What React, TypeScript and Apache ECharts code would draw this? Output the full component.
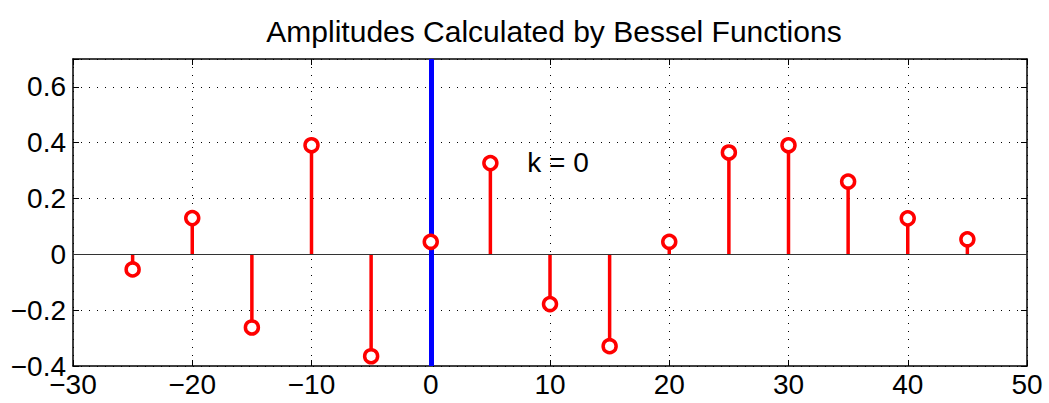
import React, { useEffect, useRef } from "react";
import * as echarts from "echarts";

// Harmonic index positions and their Bessel-function amplitudes
const positions = [-25, -20, -15, -10, -5, 0, 5, 10, 15, 20, 25, 30, 35, 40, 45];
const amplitudes = [-0.054, 0.13, -0.262, 0.391, -0.365, 0.045, 0.327, -0.178, -0.329, 0.045, 0.365, 0.391, 0.261, 0.129, 0.054];

const titleText = "Amplitudes Calculated by Bessel Functions";
const centerIndex = 0;
const annotation = { x: 8.1, y: 0.33, text: "k = 0" };

const xTicks = { min: -30, max: 50, step: 10 };
const yTicks = { min: -0.4, max: 0.7, step: 0.2 };

const FONT = "'Liberation Sans', Arial, Helvetica, sans-serif";
const fmt = (v: number) => {
  const r = Math.round(v * 10) / 10;
  const s = Math.abs(r).toString();
  return r < 0 ? "\u2212" + s : s;
};

export default function App() {
  const ref = useRef<HTMLDivElement>(null);

  useEffect(() => {
    if (!ref.current) return;
    const chart = echarts.init(ref.current, undefined, { renderer: "svg" });
    const points = positions.map((x, i) => [x, amplitudes[i]]);
    const gridLine = { show: true, lineStyle: { color: "#000", width: 1, type: [1, 7] as any } };
    const axisLine = { show: true, onZero: false, lineStyle: { color: "#000", width: 1.5 } };
    const tick = { show: true, inside: true, length: 6, lineStyle: { color: "#000", width: 1 } };

    chart.setOption({
      animation: false,
      backgroundColor: "#fff",
      title: {
        text: titleText,
        left: 549,
        textAlign: "center",
        top: 11,
        textStyle: { fontFamily: FONT, fontSize: 30, fontWeight: "normal", color: "#000" },
      },
      grid: { left: 73, right: 22, top: 59, bottom: 37 },
      xAxis: [
        {
          type: "value",
          min: xTicks.min,
          max: xTicks.max,
          interval: xTicks.step,
          position: "bottom",
          axisLine,
          axisTick: tick,
          splitLine: gridLine,
          axisLabel: { formatter: fmt, fontFamily: FONT, fontSize: 28, color: "#000", margin: 4 },
        },
        {
          type: "value",
          min: xTicks.min,
          max: xTicks.max,
          interval: xTicks.step,
          position: "top",
          axisLine,
          axisTick: tick,
          splitLine: { show: false },
          axisLabel: { show: false },
        },
      ],
      yAxis: [
        {
          type: "value",
          min: yTicks.min,
          max: yTicks.max,
          interval: yTicks.step,
          position: "left",
          axisLine,
          axisTick: tick,
          splitLine: gridLine,
          axisLabel: {
            formatter: (v: number) => (v > 0.65 ? "" : fmt(v)),
            fontFamily: FONT,
            fontSize: 28,
            color: "#000",
            margin: 7,
          },
        },
        {
          type: "value",
          min: yTicks.min,
          max: yTicks.max,
          interval: yTicks.step,
          position: "right",
          axisLine,
          axisTick: tick,
          splitLine: { show: false },
          axisLabel: { show: false },
        },
      ],
      series: [
        {
          // stems from the baseline up/down to each amplitude
          type: "custom",
          data: points,
          z: 3,
          renderItem: (params: any, api: any) => {
            const top = api.coord([api.value(0), api.value(1)]);
            const base = api.coord([api.value(0), 0]);
            return {
              type: "line",
              shape: { x1: base[0], y1: base[1], x2: top[0], y2: top[1] },
              style: { stroke: "#ff0000", lineWidth: 3.5 },
            };
          },
          markLine: {
            silent: true,
            symbol: "none",
            label: { show: false },
            data: [
              { yAxis: 0, lineStyle: { color: "#333", width: 1, type: "solid" } },
              { xAxis: centerIndex, lineStyle: { color: "#0000ff", width: 5, type: "solid" } },
            ],
          },
        },
        {
          type: "scatter",
          data: points,
          symbol: "circle",
          symbolSize: 13,
          z: 5,
          itemStyle: { color: "#fff", borderColor: "#ff0000", borderWidth: 3.5, opacity: 1 },
        },
        {
          // text annotation anchored in data coordinates
          type: "custom",
          data: [[annotation.x, annotation.y]],
          z: 6,
          silent: true,
          renderItem: (params: any, api: any) => {
            const p = api.coord([api.value(0), api.value(1)]);
            return {
              type: "text",
              x: p[0],
              y: p[1],
              style: {
                text: annotation.text,
                fill: "#000",
                font: `28px ${FONT}`,
                textAlign: "left",
                textVerticalAlign: "middle",
              },
            };
          },
        },
      ],
    });
    return () => chart.dispose();
  }, []);

  return (
    <div
      ref={ref}
      style={{ position: "fixed", left: 0, top: 0, width: 1049, height: 403, background: "#fff" }}
    />
  );
}
